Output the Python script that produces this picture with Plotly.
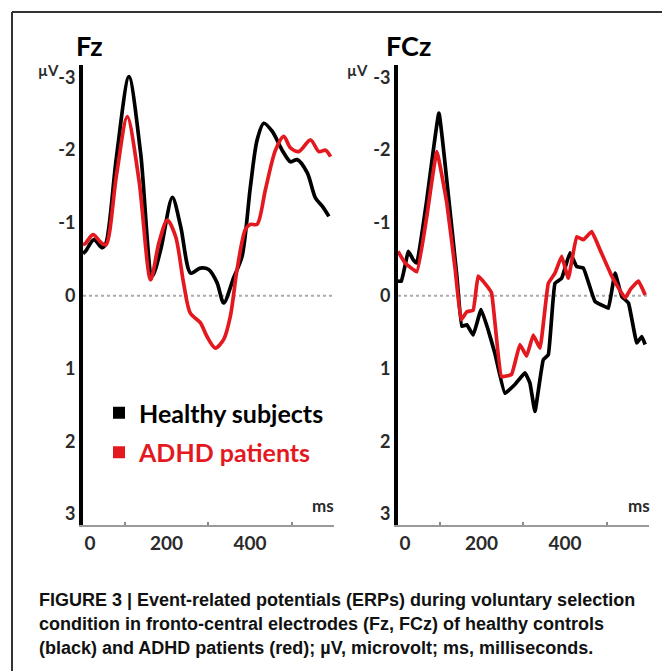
import plotly.graph_objects as go

# ---------------- data ----------------
# Fz electrode
fz_healthy_t = [0, 6, 26, 46, 55, 80, 110, 138, 166, 186, 214, 234, 258, 281, 301, 321, 337,
                361, 381, 401, 417, 433, 453, 477, 497, 513, 537, 557, 573, 589]
fz_healthy_v = [-0.58, -0.61, -0.77, -0.66, -0.72, -1.9, -3.01, -1.96, -0.27, -0.63, -1.35, -0.95,
                -0.31, -0.38, -0.36, -0.18, 0.10, -0.25, -0.54, -1.50, -2.14, -2.37, -2.26,
                -2.0, -1.84, -1.87, -1.69, -1.34, -1.23, -1.09]
fz_adhd_t = [0, 6, 24, 43, 55, 80, 106, 134, 162, 182, 202, 222, 241, 257, 281, 297, 317, 337,
             353, 369, 389, 401, 417, 437, 461, 481, 497, 517, 545, 565, 581, 593]
fz_adhd_v = [-0.70, -0.72, -0.84, -0.73, -0.70, -1.65, -2.46, -1.59, -0.22, -0.73, -1.04, -0.81,
             -0.17, 0.24, 0.37, 0.56, 0.72, 0.60, 0.28, -0.36, -0.91, -0.98, -0.98, -1.46,
             -2.0, -2.19, -2.03, -1.98, -2.14, -1.98, -2.0, -1.91]

# FCz electrode
fcz_healthy_t = [0, 8, 25, 37, 45, 69, 98, 121, 141, 153, 165, 180, 199, 216, 232, 256, 280,
                 304, 316, 328, 348, 360, 376, 392, 412, 428, 444, 472, 496, 504, 520, 536,
                 552, 572, 584, 592]
fcz_healthy_v = [-0.20, -0.20, -0.61, -0.49, -0.45, -1.32, -2.51, -1.36, -0.27, 0.42, 0.40, 0.54,
                 0.19, 0.47, 0.79, 1.34, 1.22, 1.06, 1.20, 1.59, 0.88, 0.81, -0.17, -0.24,
                 -0.59, -0.40, -0.38, 0.08, 0.15, 0.17, -0.31, 0.01, 0.10, 0.65, 0.56, 0.67]
fcz_adhd_t = [0, 17, 45, 69, 93, 117, 137, 151, 165, 180, 192, 208, 224, 248, 272, 292, 308,
              324, 340, 360, 376, 392, 408, 428, 444, 464, 484, 512, 544, 557, 576, 592]
fcz_adhd_v = [-0.61, -0.45, -0.33, -1.09, -1.98, -1.27, -0.36, 0.33, 0.22, 0.20, -0.27, -0.17,
              -0.04, 1.11, 1.08, 0.67, 0.83, 0.54, 0.72, -0.17, -0.31, -0.54, -0.24, -0.81,
              -0.77, -0.88, -0.63, -0.27, 0.03, -0.09, -0.20, -0.01]

series_names = ["Healthy subjects", "ADHD patients"]
panel_titles = ["Fz", "FCz"]
y_tick_vals = [-3, -2, -1, 0, 1, 2, 3]
x_tick_vals = [0, 200, 400]
x_minor_vals = [100, 300, 500]
caption_lines = [
    "FIGURE 3 | Event-related potentials (ERPs) during voluntary selection",
    "condition in fronto-central electrodes (Fz, FCz) of healthy controls",
    "(black) and ADHD patients (red); \u00b5V, microvolt; ms, milliseconds.",
]

# ---------------- styling ----------------
W, H = 662, 671
BLACK = "#000000"
RED = "#e3191f"
LAB = "Lato, 'Open Sans', sans-serif"
CAP = "'Liberation Sans', Arial, sans-serif"


def px(x):
    return x / W


def py(y):
    return 1 - y / H


fig = go.Figure()

panels = [
    (fz_healthy_t, fz_healthy_v, fz_adhd_t, fz_adhd_v, "x", "y", 0.8),
    (fcz_healthy_t, fcz_healthy_v, fcz_adhd_t, fcz_adhd_v, "x2", "y2", 0.3),
]
for ht, hv, at, av, xa, ya, sm in panels:
    fig.add_trace(go.Scatter(x=ht, y=hv, mode="lines", xaxis=xa, yaxis=ya,
                             line=dict(color=BLACK, width=3.7, shape="spline", smoothing=sm),
                             showlegend=False, hoverinfo="skip"))
    fig.add_trace(go.Scatter(x=at, y=av, mode="lines", xaxis=xa, yaxis=ya,
                             line=dict(color=RED, width=3.7, shape="spline", smoothing=sm),
                             showlegend=False, hoverinfo="skip"))

# legend entries (square swatches)
fig.add_trace(go.Scatter(x=[None], y=[None], mode="markers", name=series_names[0],
                         marker=dict(symbol="square", size=17, color=BLACK),
                         legendgroup="a", showlegend=True))
fig.add_trace(go.Scatter(x=[None], y=[None], mode="markers",
                         name="<span style='color:%s'>%s</span>" % (RED, series_names[1]),
                         marker=dict(symbol="square", size=17, color=RED),
                         legendgroup="b", showlegend=True))

x_range = [0, 600]
y_range = [3.15, -3.17]
y_dom = [py(525), py(65)]

xcommon = dict(range=x_range, showgrid=False, zeroline=False, showline=True, automargin=False,
               linecolor="#9a9a9a", linewidth=2, tickvals=x_tick_vals,
               ticktext=["\u00a0\u00a0\u00a00", "200", "400"], ticks="",
               tickfont=dict(family=LAB, size=19, color="#2a2a2a", weight="bold"),
               minor=dict(tickvals=x_minor_vals, ticks="inside", ticklen=3,
                          tickcolor="#888888", tickwidth=1.5))
ycommon = dict(range=y_range, showgrid=False, zeroline=False, showline=True, automargin=False,
               linecolor=BLACK, linewidth=4, tickvals=y_tick_vals,
               ticktext=[str(v) for v in y_tick_vals], ticks="",
               tickfont=dict(family=LAB, size=18, color="#2a2a2a", weight="bold"),
               domain=y_dom)

fig.update_layout(
    width=W, height=H, autosize=False, margin=dict(l=0, r=0, t=0, b=0, pad=0, autoexpand=False),
    paper_bgcolor="white", plot_bgcolor="white",
    xaxis=dict(xcommon, domain=[px(83), px(333.5)], anchor="y"),
    yaxis=dict(ycommon, anchor="x"),
    xaxis2=dict(xcommon, domain=[px(398), px(648.5)], anchor="y2"),
    yaxis2=dict(ycommon, anchor="x2"),
    legend=dict(x=px(99), y=py(390), xanchor="left", yanchor="top",
                font=dict(family=LAB, size=25, color=BLACK, weight="bold"),
                bgcolor="rgba(0,0,0,0)", tracegroupgap=4, itemsizing="constant"),
    showlegend=True,
)

shapes = []
# zero reference lines (dotted)
for xa, ya in [("x", "y"), ("x2", "y2")]:
    shapes.append(dict(type="line", xref=xa, yref=ya, x0=x_range[0], x1=x_range[1], y0=0, y1=0,
                       line=dict(color="#aaaaaa", width=2, dash="dot"), layer="below"))
# figure frame (top and left rules)
shapes.append(dict(type="line", xref="paper", yref="paper", x0=px(12), x1=1, y0=py(12), y1=py(12),
                   line=dict(color="#333333", width=2)))
shapes.append(dict(type="line", xref="paper", yref="paper", x0=px(12), x1=px(12), y0=py(12), y1=0,
                   line=dict(color="#333333", width=2)))
fig.update_layout(shapes=shapes)

ann = []
for title, xt in zip(panel_titles, [74, 384]):
    ann.append(dict(text=title, xref="paper", yref="paper", x=px(xt), y=py(45),
                    xanchor="left", yanchor="middle", showarrow=False,
                    font=dict(family=LAB, size=27, color=BLACK, weight="bold")))
for xu in [36, 345]:
    ann.append(dict(text="\u00b5V", xref="paper", yref="paper", x=px(xu), y=py(70),
                    xanchor="left", yanchor="middle", showarrow=False,
                    font=dict(family=LAB, size=15, color="#2a2a2a", weight="bold")))
for xm in [336, 652]:
    ann.append(dict(text="ms", xref="paper", yref="paper", x=px(xm), y=py(506),
                    xanchor="right", yanchor="middle", showarrow=False,
                    font=dict(family=LAB, size=17, color="#2a2a2a", weight="bold")))
for i, line in enumerate(caption_lines):
    ann.append(dict(text=line, xref="paper", yref="paper", x=px(37), y=py(600 + 24 * i),
                    xanchor="left", yanchor="middle", showarrow=False,
                    font=dict(family=CAP, size=18, color="#111111", weight="bold")))
fig.update_layout(annotations=ann)

fig.write_html("out.html", config={"displayModeBar": False, "responsive": False},
               post_script="document.body.style.margin='0px';")
